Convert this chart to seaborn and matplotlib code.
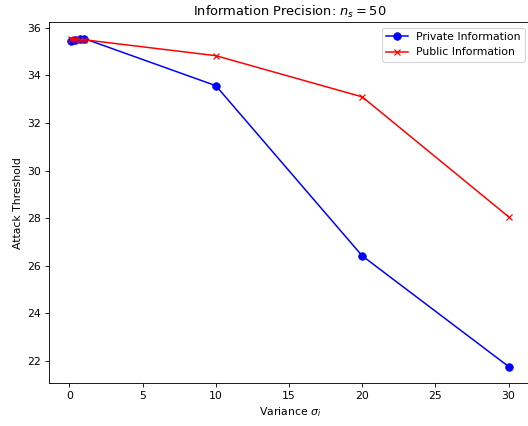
import pandas as pd
import seaborn as sns
import matplotlib.pyplot as plt

variance = [0.1, 0.4, 0.7, 1.0, 10, 20, 30]
private_info = [35.45, 35.5, 35.52, 35.55, 33.57, 26.42, 21.77]
public_info = [35.55, 35.52, 35.5, 35.5, 34.83, 33.1, 28.06]

df = pd.DataFrame({"Variance": variance, "Private": private_info, "Public": public_info})

dpi = 78
fig = plt.figure(figsize=(528 / dpi, 426 / dpi), dpi=dpi)
ax = fig.add_axes([0.0928, 0.101, 0.912, 0.847])

sns.lineplot(x="Variance", y="Private", data=df, marker="o", color="blue",
             markeredgecolor="blue", markersize=7, linewidth=1.4,
             label="Private Information", ax=ax)
sns.lineplot(x="Variance", y="Public", data=df, marker="x", color="red",
             markeredgecolor="red", markersize=5.5, markeredgewidth=1.1,
             linewidth=1.4, label="Public Information", ax=ax)

ax.set_title(r"Information Precision: $n_s = 50$")
ax.set_xlabel(r"Variance $\sigma_i$")
ax.set_ylabel("Attack Threshold")
ax.legend(loc="upper right")

fig.savefig("out.png", dpi=dpi)
